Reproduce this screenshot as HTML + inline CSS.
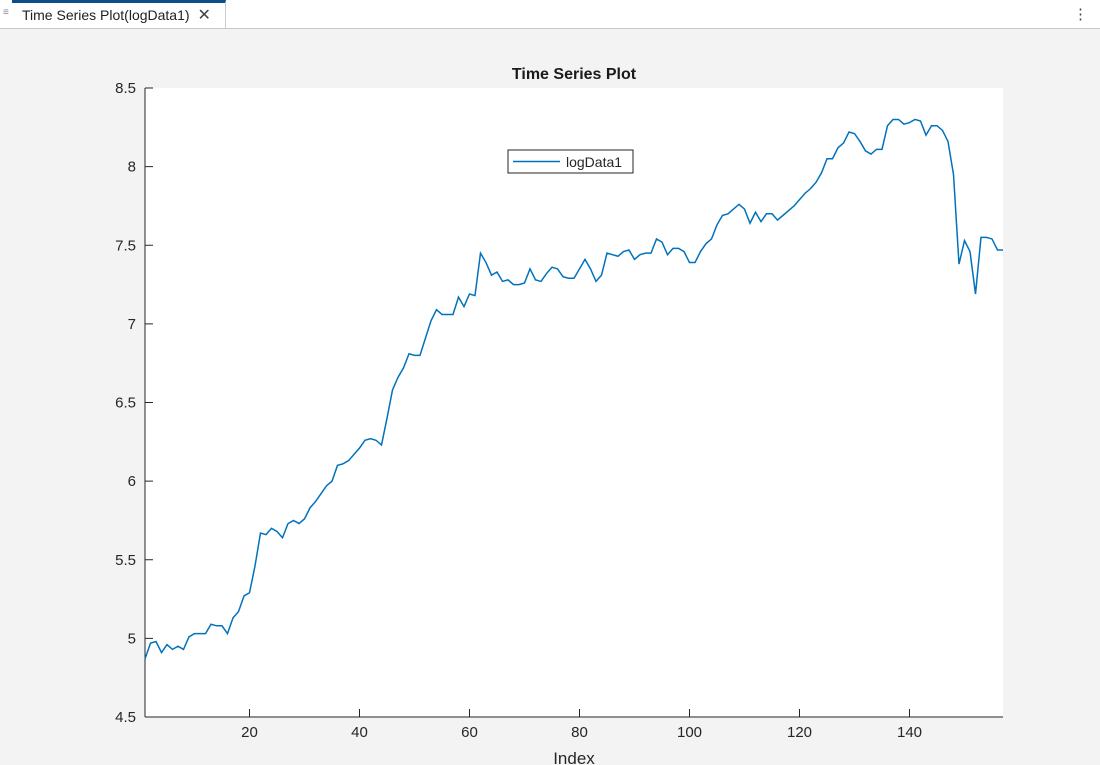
<!DOCTYPE html>
<html><head><meta charset="utf-8"><style>
body{margin:0;width:1100px;height:765px;background:#f3f3f3;font-family:"Liberation Sans",Arial,sans-serif;overflow:hidden;position:relative}
.tabbar{position:absolute;left:0;top:0;width:1100px;height:28px;background:#fff;border-bottom:1px solid #c8c8c8}
.tab{position:absolute;left:12px;top:0;width:214px;height:28px;background:#fff;border-top:3px solid #0b4e8a;box-sizing:border-box;border-right:1px solid #ccc;font-size:14px;line-height:24px;padding-left:10px;color:#222}
</style></head><body>
<div class="tabbar">
<div style="position:absolute;left:3px;top:7px;font-size:10px;color:#888">≡</div>
<div class="tab">Time Series Plot(logData1) <span style="font-size:16px;color:#444;margin-left:4px">✕</span></div>
<div style="position:absolute;right:12px;top:5px;font-size:15px;color:#444">⋮</div>
</div>
<svg id="chart" width="1100" height="765" style="position:absolute;left:0;top:0">
</svg>
<script>
const indices=[];for(let i=1;i<=157;i++)indices.push(i);
const values=[4.87,4.97,4.98,4.91,4.96,4.93,4.95,4.93,5.01,5.03,5.03,5.03,5.09,5.08,5.08,5.03,5.13,5.17,5.27,5.29,5.46,5.67,5.66,5.70,5.68,5.64,5.73,5.75,5.73,5.76,5.83,5.87,5.92,5.97,6.00,6.10,6.11,6.13,6.17,6.21,6.26,6.27,6.26,6.23,6.40,6.58,6.66,6.72,6.81,6.80,6.80,6.91,7.02,7.09,7.06,7.06,7.06,7.17,7.11,7.19,7.18,7.45,7.39,7.31,7.33,7.27,7.28,7.25,7.25,7.26,7.35,7.28,7.27,7.32,7.36,7.35,7.30,7.29,7.29,7.35,7.41,7.35,7.27,7.31,7.45,7.44,7.43,7.46,7.47,7.41,7.44,7.45,7.45,7.54,7.52,7.44,7.48,7.48,7.46,7.39,7.39,7.46,7.51,7.54,7.63,7.69,7.70,7.73,7.76,7.73,7.64,7.71,7.65,7.70,7.70,7.66,7.69,7.72,7.75,7.79,7.83,7.86,7.90,7.96,8.05,8.05,8.12,8.15,8.22,8.21,8.16,8.10,8.08,8.11,8.11,8.26,8.30,8.30,8.27,8.28,8.30,8.29,8.20,8.26,8.26,8.23,8.16,7.95,7.38,7.53,7.46,7.19,7.55,7.55,7.54,7.47,7.47];
const xTicks=[20,40,60,80,100,120,140];
const yTicks=[4.5,5,5.5,6,6.5,7,7.5,8,8.5];
const yTickLabels=["4.5","5","5.5","6","6.5","7","7.5","8","8.5"];
const L=145,R=1003,T=88,B=717,xMin=1,xMax=157,yMin=4.5,yMax=8.5;
const xs=v=>L+(v-xMin)/(xMax-xMin)*(R-L);
const ys=v=>B-(v-yMin)/(yMax-yMin)*(B-T);
const svg=document.getElementById('chart');const NS='http://www.w3.org/2000/svg';
function mk(t,a,txt){const e=document.createElementNS(NS,t);for(const k in a)e.setAttribute(k,a[k]);if(txt!==undefined)e.textContent=txt;svg.appendChild(e);return e;}
let e;
e=mk('rect',{x:L,y:T,width:R-L,height:B-T,fill:'#fff'});


e=mk('line',{x1:L,y1:B,x2:R,y2:B,stroke:'#262626','stroke-width':1});


e=mk('line',{x1:L,y1:T,x2:L,y2:B,stroke:'#262626','stroke-width':1});


xTicks.forEach(t=>{const x=xs(t);
e=mk('line',{x1:x,y1:B,x2:x,y2:B-8,stroke:'#262626'});


e=mk('text',{x:x,y:B+20,'text-anchor':'middle','font-size':15,fill:'#262626'},String(t));

});
yTicks.forEach((t,i)=>{const y=ys(t);
e=mk('line',{x1:L,y1:y,x2:L+8,y2:y,stroke:'#262626'});


e=mk('text',{x:L-9,y:y+5,'text-anchor':'end','font-size':15,fill:'#262626'},yTickLabels[i]);

});
e=mk('polyline',{points:values.map((v,i)=>xs(indices[i])+','+ys(v)).join(' '),fill:'none',stroke:'#0072bd','stroke-width':1.5});


e=mk('text',{x:(L+R)/2,y:79,'text-anchor':'middle','font-size':16,'font-weight':'bold',fill:'#1a1a1a'},'Time Series Plot');


e=mk('text',{x:(L+R)/2,y:764,'text-anchor':'middle','font-size':17,fill:'#262626'},'Index');


e=mk('rect',{x:508,y:150,width:125,height:23,fill:'#fff',stroke:'#262626','stroke-width':1});


e=mk('line',{x1:513,y1:161.5,x2:560,y2:161.5,stroke:'#0072bd','stroke-width':1.5});


e=mk('text',{x:566,y:167,'font-size':14,fill:'#262626'},'logData1');


</script>
</body></html>
